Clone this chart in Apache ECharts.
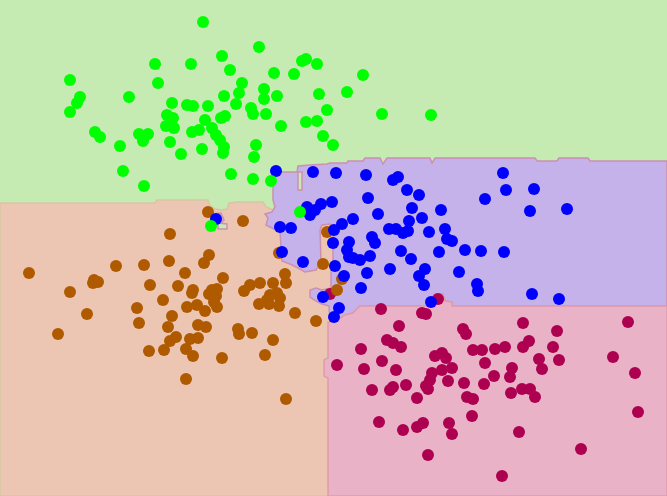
<!DOCTYPE html>
<html>
<head>
<meta charset="utf-8">
<script src="https://cdn.jsdelivr.net/npm/echarts@6/dist/echarts.min.js"></script>
<style>html,body{margin:0;padding:0;background:#fff}#c{width:667px;height:496px}</style>
</head>
<body>
<div id="c"></div>
<script>
// ---- data (plot units: x 0..667, y 0..496 top-down) ----
const greenPts = [[203,22],[259,47],[222,56],[155,64],[191,64],[230,70],[70,80],[158,83],[242,83],[239,93],[264,89],[264,99],[274,73],[294,74],[302,61],[306,59],[317,64],[363,75],[347,92],[382,114],[431,115],[319,94],[277,96],[327,110],[306,122],[317,121],[281,126],[323,136],[333,145],[80,97],[77,103],[70,112],[129,97],[172,103],[187,105],[193,106],[208,106],[224,96],[236,104],[251,108],[253,114],[266,114],[221,118],[225,116],[205,120],[167,115],[173,118],[166,126],[174,128],[192,132],[199,130],[212,128],[216,135],[220,140],[224,147],[223,153],[95,132],[100,137],[139,134],[143,141],[148,134],[120,146],[170,142],[181,154],[202,149],[256,145],[254,157],[123,171],[144,186],[231,174],[253,179],[271,181],[300,212],[211,226]];
const bluePts = [[276,171],[313,172],[336,173],[366,175],[393,180],[398,177],[407,190],[419,195],[368,198],[503,173],[506,190],[534,189],[485,199],[530,211],[567,209],[412,208],[441,210],[307,207],[310,215],[315,210],[321,204],[332,202],[378,214],[353,219],[342,224],[334,230],[280,227],[291,228],[409,221],[422,218],[389,229],[396,229],[408,231],[403,233],[429,232],[445,229],[447,239],[452,241],[333,243],[349,242],[372,237],[375,243],[347,250],[349,257],[353,258],[360,260],[370,256],[401,251],[411,259],[439,252],[465,250],[481,251],[504,252],[282,252],[303,262],[335,266],[344,276],[367,273],[390,269],[425,269],[419,276],[424,285],[459,272],[477,284],[478,291],[532,294],[559,299],[361,288],[323,297],[431,302],[339,308],[334,317],[216,219]];
const orangePts = [[208,212],[243,221],[170,234],[327,232],[29,273],[70,292],[87,314],[58,334],[94,280],[98,282],[93,283],[116,266],[144,265],[169,261],[185,273],[150,285],[178,286],[193,290],[192,293],[163,300],[137,308],[139,323],[172,316],[168,327],[187,307],[197,305],[198,325],[176,337],[170,341],[164,350],[190,339],[198,338],[186,349],[193,356],[149,351],[186,379],[209,255],[204,263],[223,278],[212,290],[217,289],[209,294],[216,296],[214,302],[217,307],[205,311],[244,291],[250,285],[260,283],[273,283],[285,274],[286,283],[270,295],[277,293],[267,300],[280,298],[259,304],[269,304],[279,306],[295,313],[316,321],[206,327],[238,329],[239,334],[252,333],[273,340],[222,358],[265,355],[286,399],[323,264],[279,253],[342,279],[337,290]];
const maroonPts = [[330,294],[438,299],[381,309],[422,313],[426,314],[399,326],[463,329],[466,334],[387,340],[393,343],[401,347],[361,349],[435,356],[442,353],[446,358],[337,365],[382,361],[364,369],[396,370],[432,373],[442,370],[452,368],[430,380],[448,381],[372,390],[390,390],[393,387],[406,385],[428,389],[426,386],[417,398],[464,383],[467,397],[473,399],[473,350],[482,350],[495,349],[505,347],[485,363],[494,376],[484,384],[472,416],[379,422],[403,430],[417,427],[423,423],[449,423],[452,434],[428,455],[502,476],[628,322],[523,323],[557,331],[529,341],[523,347],[553,347],[539,359],[559,360],[542,369],[512,368],[510,377],[522,389],[530,389],[535,397],[511,393],[613,357],[635,373],[638,412],[519,432],[581,449]];

// decision-region outlines
const greenRegion = [[0,0],[667,0],[667,496],[0,496]];
const orangeRegion = [[0,203],[155,203],[157,200],[208,200],[210,206],[215,209],[222,210],[227,209],[229,203],[238,202],[263,202],[266,207],[273,210],[340,210],[340,496],[0,496]];
const purpleRegion = [[273,172],[297,172],[298,166],[310,165],[327,164],[330,163],[347,163],[348,161],[363,161],[365,158],[380,158],[383,164],[387,158],[430,158],[432,163],[435,158],[535,158],[537,161],[557,161],[559,158],[588,158],[590,161],[667,161],[667,306],[452,306],[452,302],[445,301],[443,294],[435,294],[434,306],[360,306],[353,313],[345,315],[338,320],[330,322],[329,306],[322,304],[316,301],[310,297],[310,290],[316,288],[322,290],[331,288],[331,265],[333,262],[333,228],[330,224],[322,225],[320,230],[321,262],[316,270],[305,272],[298,268],[290,264],[282,261],[280,232],[272,228],[266,225],[268,218],[265,214],[272,212],[275,207],[273,200]];
const pinkRegion = [[328,496],[667,496],[667,306],[452,306],[452,302],[445,301],[443,294],[435,294],[434,306],[360,306],[353,313],[345,315],[338,320],[330,322],[328,322],[328,358],[324,360],[324,376],[328,378]];
const greenStrip = [[298,172],[302,172],[302,190],[298,190]];
const purpleIsland = [[211,214],[221,213],[224,220],[220,224],[212,224]];
const greenIsland = [[218,223],[227,224],[227,229],[218,229]];

function regionSeries(pts, fill, stroke, z) {
  return {
    type: 'custom', z: z, silent: true, data: pts,
    renderItem: function (params, api) {
      if (params.dataIndex !== 0) return null;
      const p = pts.map(v => api.coord(v));
      return { type: 'polygon', shape: { points: p },
        style: { fill: fill, stroke: stroke, lineWidth: stroke ? 1.5 : 0 } };
    }
  };
}
function pointSeries(pts, color) {
  return { type: 'scatter', data: pts, symbolSize: 12, z: 10,
    itemStyle: { color: color, opacity: 1 }, silent: true };
}

const chart = echarts.init(document.getElementById('c'), null, { renderer: 'canvas' });
chart.setOption({
  animation: false,
  grid: { left: 0, right: 0, top: 0, bottom: 0 },
  xAxis: { type: 'value', min: 0, max: 667, show: false },
  yAxis: { type: 'value', min: 0, max: 496, inverse: true, show: false },
  series: [
    regionSeries(greenRegion, '#c5eab2', null, 1),
    regionSeries(orangeRegion, '#ecc6b2', '#d8c6a2', 2),
    regionSeries(purpleRegion, '#c5b2ea', '#cc90b0', 3),
    regionSeries(pinkRegion, '#eab2c6', '#df9cad', 4),
    regionSeries(greenStrip, '#c5eab2', '#cc90b0', 5),
    regionSeries(purpleIsland, '#c5b2ea', '#cc90b0', 5),
    regionSeries(greenIsland, '#c5eab2', '#cc90b0', 5),
    pointSeries(maroonPts, '#ad0050'),
    pointSeries(orangePts, '#b05a00'),
    pointSeries(bluePts, '#0000ff'),
    pointSeries(greenPts, '#00ff00')
  ]
});
</script>
</body>
</html>
